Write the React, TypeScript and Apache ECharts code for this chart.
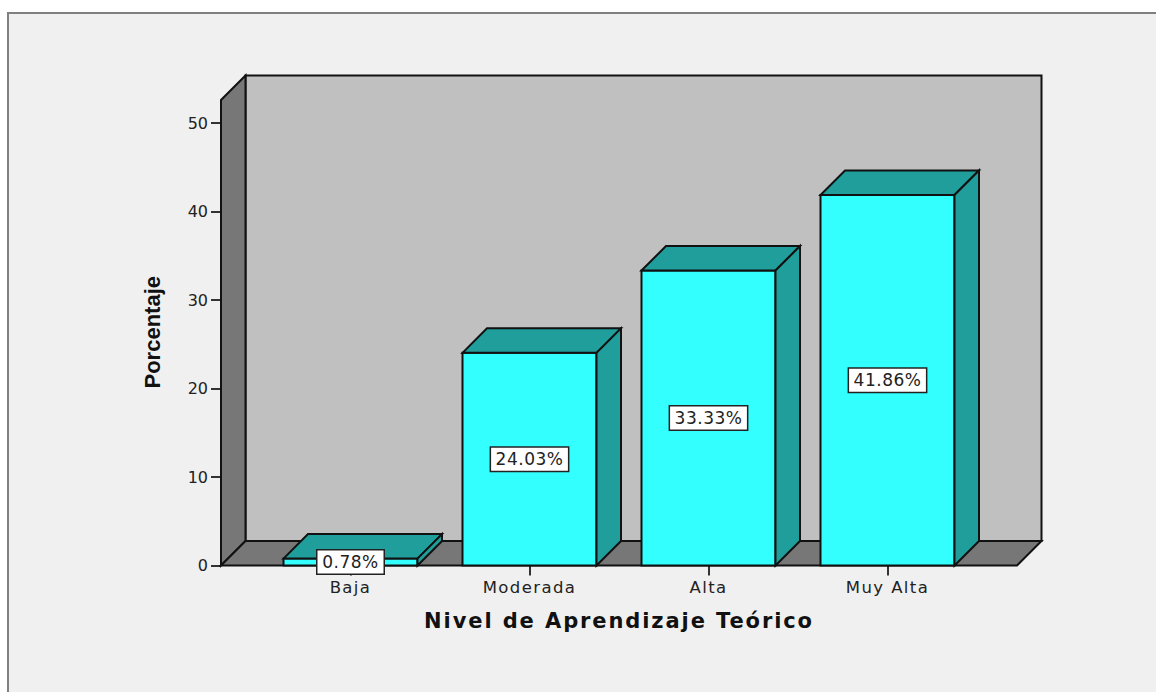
import React, { useEffect, useRef } from "react";
import * as echarts from "echarts";

const categories = ["Baja", "Moderada", "Alta", "Muy Alta"];
const percentages = [0.78, 24.03, 33.33, 41.86];
const yTicksMax = 50;
const yInterval = 10;
const xAxisTitle = "Nivel de Aprendizaje Teórico";
const yAxisTitle = "Porcentaje";

const DEPTH = 24.5;
const BAR_RATIO = 134 / 179;
const SIDE_PAD = 40;
const WALL_OVER = 23;

function poly(points: number[][], fill: string, lineWidth = 2) {
  return {
    type: "polygon",
    shape: { points },
    style: { fill, stroke: "#111", lineWidth },
  };
}

const spacingCss = `
text[style*="16.5px"] { letter-spacing: 1.4px; }
text[style*="17px"] { letter-spacing: 0.5px; }
text[style*="21px"] { letter-spacing: 1.9px; }
`;

export default function App() {
  const ref = useRef<HTMLDivElement>(null);

  useEffect(() => {
    const chart = echarts.init(ref.current!, undefined, { renderer: "svg" });
    chart.setOption({
      animation: false,
      backgroundColor: "transparent",
      textStyle: { fontFamily: "DejaVu Sans" },
      grid: { left: 261, top: 123, width: 716, height: 442.5 },
      xAxis: {
        type: "category",
        data: categories,
        boundaryGap: true,
        axisLine: { show: false },
        axisTick: {
          show: true,
          alignWithLabel: true,
          length: 10,
          lineStyle: { color: "#333", width: 2 },
        },
        axisLabel: { color: "#222", fontFamily: "DejaVu Sans", fontSize: 16.5, margin: 13 },
        name: xAxisTitle,
        nameLocation: "middle",
        nameGap: 45,
        nameTextStyle: { color: "#111", fontFamily: "DejaVu Sans", fontWeight: "bold", fontSize: 21 },
      },
      yAxis: {
        type: "value",
        min: 0,
        max: yTicksMax,
        interval: yInterval,
        offset: SIDE_PAD,
        splitLine: { show: false },
        axisLine: { show: false },
        axisTick: { show: true, length: 10, lineStyle: { color: "#333", width: 2 } },
        axisLabel: { color: "#222", fontFamily: "DejaVu Sans", fontSize: 16, margin: 13 },
        name: yAxisTitle,
        nameLocation: "middle",
        nameGap: 58,
        nameRotate: 90,
        nameTextStyle: {
          color: "#111",
          fontFamily: "Liberation Sans",
          fontWeight: "bold",
          fontSize: 22,
          padding: [0, 0, 0, 24],
        },
      },
      series: [
        {
          type: "custom",
          coordinateSystem: "cartesian2d",
          z: 1,
          data: [[0, 0]],
          silent: true,
          renderItem: (params: any) => {
            const c = params.coordSys;
            const l = c.x - SIDE_PAD;
            const r = c.x + c.width + SIDE_PAD;
            const b = c.y + c.height;
            const t = c.y - WALL_OVER;
            return {
              type: "group",
              children: [
                poly([[l + DEPTH, t - DEPTH], [r + DEPTH, t - DEPTH], [r + DEPTH, b - DEPTH], [l + DEPTH, b - DEPTH]], "#c0c0c0"),
                poly([[l, t], [l + DEPTH, t - DEPTH], [l + DEPTH, b - DEPTH], [l, b]], "#777777"),
                poly([[l, b], [l + DEPTH, b - DEPTH], [r + DEPTH, b - DEPTH], [r, b]], "#777777"),
              ],
            };
          },
        },
        {
          type: "custom",
          coordinateSystem: "cartesian2d",
          z: 2,
          encode: { x: 0, y: 1 },
          data: percentages.map((v, i) => [i, v]),
          renderItem: (_params: any, api: any) => {
            const i = api.value(0);
            const v = api.value(1);
            const top = api.coord([i, v]);
            const base = api.coord([i, 0]);
            const w = api.size([1, 0])[0] * BAR_RATIO;
            const l = top[0] - w / 2;
            const r = top[0] + w / 2;
            const t = top[1];
            const b = base[1];
            return {
              type: "group",
              children: [
                poly([[l, t], [r, t], [r, b], [l, b]], "#33ffff"),
                poly([[l, t], [l + DEPTH, t - DEPTH], [r + DEPTH, t - DEPTH], [r, t]], "#1f9e9c"),
                poly([[r, t], [r + DEPTH, t - DEPTH], [r + DEPTH, b - DEPTH], [r, b]], "#1f9e9c"),
                {
                  type: "text",
                  x: top[0],
                  y: (t + b) / 2,
                  z2: 10,
                  style: {
                    text: v.toFixed(2) + "%",
                    fill: "#222",
                    font: "17px 'DejaVu Sans'",
                    align: "center",
                    verticalAlign: "middle",
                    backgroundColor: "#fff",
                    borderColor: "#222",
                    borderWidth: 1.5,
                    padding: [3, 6, 3, 6],
                  },
                },
              ],
            };
          },
        },
      ],
    });
    return () => chart.dispose();
  }, []);

  return (
    <div style={{ position: "fixed", left: 0, top: 0, width: 1156, height: 692, background: "#fff", overflow: "hidden" }}>
      <style>{spacingCss}</style>
      <div
        style={{
          position: "absolute",
          left: 7,
          top: 12,
          width: 1160,
          height: 700,
          background: "#f0f0f0",
          borderLeft: "2px solid #808080",
          borderTop: "2px solid #808080",
        }}
      />
      <div ref={ref} style={{ position: "absolute", left: 0, top: 0, width: 1156, height: 692 }} />
    </div>
  );
}
